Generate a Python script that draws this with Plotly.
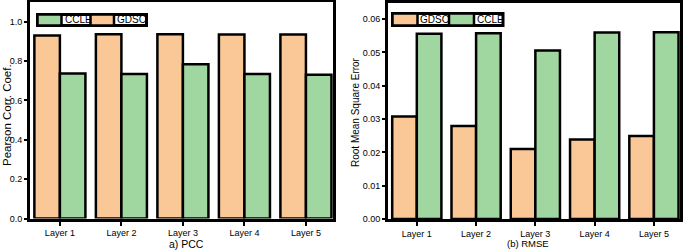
import plotly.graph_objects as go

# ---- data ----
layers = ["Layer 1", "Layer 2", "Layer 3", "Layer 4", "Layer 5"]
pcc_gdsc = [0.930, 0.936, 0.936, 0.935, 0.935]
pcc_ccle = [0.737, 0.734, 0.784, 0.734, 0.730]
rmse_gdsc = [0.0308, 0.0279, 0.0210, 0.0239, 0.0249]
rmse_ccle = [0.0556, 0.0558, 0.0506, 0.0560, 0.0561]
pcc_ticks = [0.0, 0.2, 0.4, 0.6, 0.8, 1.0]
rmse_ticks = [0.00, 0.01, 0.02, 0.03, 0.04, 0.05, 0.06]

ORANGE = "#FAC896"
GREEN = "#A0D6A0"
W, H = 685, 250
FONT = "Liberation Sans, Arial, sans-serif"

def X(px):
    return px / W

def Y(py):
    return 1 - py / H

fig = go.Figure()
mk = lambda c: dict(color=c, line=dict(color="black", width=2.5))
fig.add_trace(go.Bar(x=layers, y=pcc_gdsc, name="GDSC", marker=mk(ORANGE), xaxis="x", yaxis="y", showlegend=False))
fig.add_trace(go.Bar(x=layers, y=pcc_ccle, name="CCLE", marker=mk(GREEN), xaxis="x", yaxis="y", showlegend=False))
fig.add_trace(go.Bar(x=layers, y=rmse_gdsc, name="GDSC", marker=mk(ORANGE), xaxis="x2", yaxis="y2", showlegend=False))
fig.add_trace(go.Bar(x=layers, y=rmse_ccle, name="CCLE", marker=mk(GREEN), xaxis="x2", yaxis="y2", showlegend=False))

xcommon = dict(type="category", range=[-0.486, 4.44], showline=True, linewidth=3, linecolor="black",
               mirror=True, ticks="outside", ticklen=4, tickwidth=2, tickcolor="black",
               tickfont=dict(size=9, color="black", family=FONT), showgrid=False, zeroline=False,
               automargin=False, fixedrange=True)
ycommon = dict(showline=True, linewidth=3, linecolor="black", mirror=True, ticks="outside",
               ticklen=3, tickwidth=2, tickcolor="black", automargin=False, fixedrange=True,
               tickfont=dict(size=9, color="black", family=FONT), showgrid=False, zeroline=False)

fig.update_layout(
    template="none",
    width=W, height=H, autosize=False, margin=dict(l=0, r=0, t=0, b=0, pad=0),
    paper_bgcolor="white", plot_bgcolor="white",
    barmode="group", bargap=0.17, bargroupgap=0,
    font=dict(family=FONT, color="black"),
    showlegend=False,
    xaxis=dict(xcommon, domain=[X(30), X(333)], anchor="y"),
    yaxis=dict(ycommon, domain=[Y(218.5), Y(2)], range=[0, 1.1], tickvals=pcc_ticks,
               tickformat=".1f", anchor="x"),
    xaxis2=dict(xcommon, domain=[X(388), X(680)], anchor="y2"),
    yaxis2=dict(ycommon, domain=[Y(219), Y(2.5)], range=[0, 0.065], tickvals=rmse_ticks,
                tickformat=".2f", anchor="x2"),
)

ann = []
ann.append(dict(text="a) PCC", x=X(186), y=Y(243.5), xref="paper", yref="paper", showarrow=False,
                xanchor="center", yanchor="middle", font=dict(size=10.5)))
ann.append(dict(text="(b) RMSE", x=X(528), y=Y(243.5), xref="paper", yref="paper", showarrow=False,
                xanchor="center", yanchor="middle", font=dict(size=9.5)))
ann.append(dict(text="Pearson Corr. Coef.", x=X(7), y=Y(115), xref="paper", yref="paper",
                showarrow=False, textangle=-90, xanchor="center", yanchor="middle", font=dict(size=11.5)))
ann.append(dict(text="Root Mean Square Error", x=X(356), y=Y(112), xref="paper", yref="paper",
                showarrow=False, textangle=-90, xanchor="center", yanchor="middle", font=dict(size=10)))

shapes = []

def legend(x0, x1, y0, y1, items):
    shapes.append(dict(type="rect", xref="paper", yref="paper", x0=X(x0), x1=X(x1), y0=Y(y1), y1=Y(y0),
                       fillcolor="white", line=dict(color="black", width=3)))
    for (name, color, sx0, sx1, tx) in items:
        shapes.append(dict(type="rect", xref="paper", yref="paper", x0=X(sx0), x1=X(sx1), y0=Y(y1), y1=Y(y0),
                           fillcolor=color, line=dict(color="black", width=2.5)))
        ann.append(dict(text=name, x=X(tx), y=Y((y0 + y1) / 2), xref="paper", yref="paper", showarrow=False,
                        xanchor="left", yanchor="middle", font=dict(size=10)))

legend(37.5, 146.5, 14.5, 25.5, [("CCLE", GREEN, 37.5, 61.5, 62.5), ("GDSC", ORANGE, 90.5, 114, 115)])
legend(392.5, 503, 13.5, 25.5, [("GDSC", ORANGE, 392.5, 417.5, 418), ("CCLE", GREEN, 449, 474, 474.5)])

fig.update_layout(annotations=ann, shapes=shapes)
fig.write_html("out.html", config={"displayModeBar": False},
               post_script="document.body.style.margin='0';document.body.style.overflow='hidden';"
                           "document.documentElement.style.overflow='hidden';")
